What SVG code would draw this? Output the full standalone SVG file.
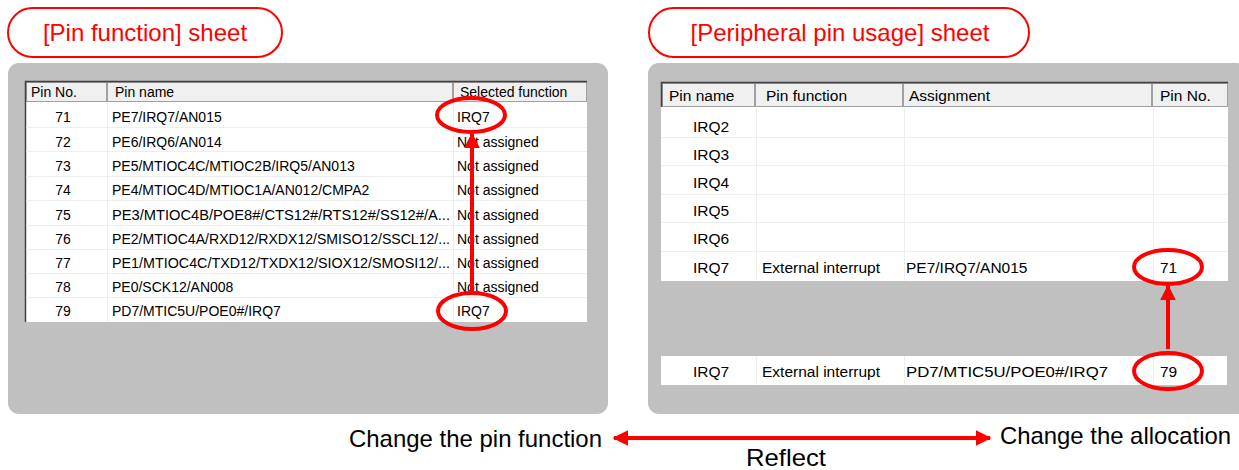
<svg xmlns="http://www.w3.org/2000/svg" width="1239" height="470" viewBox="0 0 1239 470">
  <defs>
    <style>
      .panel { fill: #c0c0c0; }
      .pill { fill: #ffffff; stroke: #ff0000; stroke-width: 2; }
      .pill-text { font-family: "Liberation Sans", Arial, sans-serif; font-size: 24px; fill: #ff0000; text-anchor: middle; }
      .grid { fill: #ffffff; }
      .rowline { stroke: #eeeeee; stroke-width: 1; }
      .hdr { fill: #f0f0f0; stroke: #a0a0a0; stroke-width: 1; }
      .frame { stroke: #404040; stroke-width: 1.5; fill: none; }
      .cell { font-family: "Liberation Sans", Arial, sans-serif; font-size: 14px; fill: #000000; }
      .cell-l { font-family: "Liberation Sans", Arial, sans-serif; font-size: 15.5px; fill: #000000; }
      .mid { text-anchor: middle; }
      .mark { fill: none; stroke: #ff0000; stroke-width: 4; }
      .red-line { stroke: #ff0000; stroke-width: 4; fill: none; }
      .caption { font-family: "Liberation Sans", Arial, sans-serif; font-size: 24px; fill: #000000; }
    </style>
    <marker id="head" viewBox="0 0 10 10" refX="9" refY="5" markerWidth="4" markerHeight="4" orient="auto-start-reverse" markerUnits="strokeWidth">
      <path d="M0,0 L10,5 L0,10 z" fill="#ff0000"/>
    </marker>
  </defs>

  <!-- Pin function sheet -->
  <g id="pin-function-sheet">
    <rect class="pill" x="8" y="8" width="274" height="49" rx="24.5"/>
    <text class="pill-text" x="145" y="41">[Pin function] sheet</text>

    <rect class="panel" x="8" y="63" width="600" height="351" rx="11"/>
    <rect class="grid" x="25" y="81" width="562" height="241"/>
    <!-- header -->
    <rect class="hdr" x="26.5" y="82.5" width="80" height="19"/>
    <rect class="hdr" x="107.5" y="82.5" width="345" height="19"/>
    <rect class="hdr" x="453.5" y="82.5" width="133" height="19"/>
    <path class="frame" d="M25.5,322 V81.5 H587"/>
    <!-- row separators -->
    <g class="rowline">
      <line x1="26" y1="127.5" x2="587" y2="127.5"/>
      <line x1="26" y1="151.5" x2="587" y2="151.5"/>
      <line x1="26" y1="176.5" x2="587" y2="176.5"/>
      <line x1="26" y1="200.5" x2="587" y2="200.5"/>
      <line x1="26" y1="225.5" x2="587" y2="225.5"/>
      <line x1="26" y1="249.5" x2="587" y2="249.5"/>
      <line x1="26" y1="273.5" x2="587" y2="273.5"/>
      <line x1="26" y1="297.5" x2="587" y2="297.5"/>
      <line x1="107.5" y1="102" x2="107.5" y2="322"/>
      <line x1="453.5" y1="102" x2="453.5" y2="322"/>
    </g>
    <text class="cell" x="31" y="97">Pin No.</text>
    <text class="cell" x="115" y="97">Pin name</text>
    <text class="cell" x="460" y="97">Selected function</text>

    <g class="cell">
      <text class="mid" x="63" y="122">71</text>
      <text class="mid" x="63" y="147">72</text>
      <text class="mid" x="63" y="171">73</text>
      <text class="mid" x="63" y="195">74</text>
      <text class="mid" x="63" y="220">75</text>
      <text class="mid" x="63" y="244">76</text>
      <text class="mid" x="63" y="268">77</text>
      <text class="mid" x="63" y="292">78</text>
      <text class="mid" x="63" y="316">79</text>

      <text x="112" y="122">PE7/IRQ7/AN015</text>
      <text x="112" y="147">PE6/IRQ6/AN014</text>
      <text x="112" y="171">PE5/MTIOC4C/MTIOC2B/IRQ5/AN013</text>
      <text x="112" y="195">PE4/MTIOC4D/MTIOC1A/AN012/CMPA2</text>
      <text x="112" y="220" textLength="338" lengthAdjust="spacingAndGlyphs">PE3/MTIOC4B/POE8#/CTS12#/RTS12#/SS12#/A...</text>
      <text x="112" y="244" textLength="338" lengthAdjust="spacingAndGlyphs">PE2/MTIOC4A/RXD12/RXDX12/SMISO12/SSCL12/...</text>
      <text x="112" y="268" textLength="338" lengthAdjust="spacingAndGlyphs">PE1/MTIOC4C/TXD12/TXDX12/SIOX12/SMOSI12/...</text>
      <text x="112" y="292">PE0/SCK12/AN008</text>
      <text x="112" y="316">PD7/MTIC5U/POE0#/IRQ7</text>

      <text x="457" y="122">IRQ7</text>
      <text x="457" y="147">Not assigned</text>
      <text x="457" y="171">Not assigned</text>
      <text x="457" y="195">Not assigned</text>
      <text x="457" y="220">Not assigned</text>
      <text x="457" y="244">Not assigned</text>
      <text x="457" y="268">Not assigned</text>
      <text x="457" y="292">Not assigned</text>
      <text x="457" y="316">IRQ7</text>
    </g>
    <ellipse class="mark" cx="471" cy="115" rx="34" ry="17"/>
    <ellipse class="mark" cx="472" cy="311" rx="34" ry="18"/>
  </g>

  <!-- Peripheral pin usage sheet -->
  <g id="peripheral-pin-usage-sheet">
    <rect class="pill" x="649" y="8" width="380" height="49" rx="24.5"/>
    <text class="pill-text" x="840" y="41">[Peripheral pin usage] sheet</text>

    <rect class="panel" x="648" y="63" width="600" height="351" rx="11"/>
    <rect class="grid" x="661" y="82" width="567" height="199"/>
    <rect class="hdr" x="662.5" y="83.5" width="92" height="23"/>
    <rect class="hdr" x="755.5" y="83.5" width="147" height="23"/>
    <rect class="hdr" x="903.5" y="83.5" width="248" height="23"/>
    <rect class="hdr" x="1152.5" y="83.5" width="75" height="23"/>
    <path class="frame" d="M661.5,107 V82.5 H1228"/>
    <g class="rowline">
      <line x1="661" y1="137.5" x2="1228" y2="137.5"/>
      <line x1="661" y1="165.5" x2="1228" y2="165.5"/>
      <line x1="661" y1="194.5" x2="1228" y2="194.5"/>
      <line x1="661" y1="222.5" x2="1228" y2="222.5"/>
      <line x1="661" y1="251.5" x2="1228" y2="251.5"/>
      <line x1="756.5" y1="108" x2="756.5" y2="281"/>
      <line x1="904.5" y1="108" x2="904.5" y2="281"/>
      <line x1="1153.5" y1="108" x2="1153.5" y2="281"/>
    </g>
    <text class="cell-l" x="669" y="101">Pin name</text>
    <text class="cell-l" x="766" y="101">Pin function</text>
    <text class="cell-l" x="909" y="101">Assignment</text>
    <text class="cell-l" x="1160" y="101">Pin No.</text>

    <g class="cell-l">
      <text class="mid" x="711" y="132">IRQ2</text>
      <text class="mid" x="711" y="160">IRQ3</text>
      <text class="mid" x="711" y="188">IRQ4</text>
      <text class="mid" x="711" y="216">IRQ5</text>
      <text class="mid" x="711" y="244">IRQ6</text>
      <text class="mid" x="711" y="273">IRQ7</text>
      <text x="762" y="273" textLength="118" lengthAdjust="spacingAndGlyphs">External interrupt</text>
      <text x="906" y="273">PE7/IRQ7/AN015</text>
      <text x="1160" y="273">71</text>
    </g>

    <rect class="grid" x="661" y="356" width="566" height="29"/>
    <g class="rowline">
      <line x1="756.5" y1="356" x2="756.5" y2="385"/>
      <line x1="904.5" y1="356" x2="904.5" y2="385"/>
      <line x1="1153.5" y1="356" x2="1153.5" y2="385"/>
    </g>
    <g class="cell-l">
      <text class="mid" x="711" y="377">IRQ7</text>
      <text x="762" y="377" textLength="118" lengthAdjust="spacingAndGlyphs">External interrupt</text>
      <text x="906" y="377" textLength="202" lengthAdjust="spacingAndGlyphs">PD7/MTIC5U/POE0#/IRQ7</text>
      <text x="1160" y="377">79</text>
    </g>
    <ellipse class="mark" cx="1168" cy="267" rx="34" ry="17"/>
    <ellipse class="mark" cx="1168" cy="371" rx="34" ry="18"/>
  </g>

  <!-- connectors -->
  <g id="connectors">
    <line class="red-line" x1="472" y1="292" x2="472" y2="134" marker-end="url(#head)"/>
    <line class="red-line" x1="1168" y1="349" x2="1168" y2="286" marker-end="url(#head)"/>
    <line class="red-line" x1="614" y1="438" x2="990" y2="438" stroke-width="5" marker-start="url(#head)" marker-end="url(#head)"/>
  </g>

  <!-- captions -->
  <g id="captions">
    <text class="caption" x="602" y="447" text-anchor="end" textLength="253" lengthAdjust="spacingAndGlyphs">Change the pin function</text>
    <text class="caption" x="1000" y="444" textLength="231" lengthAdjust="spacingAndGlyphs">Change the allocation</text>
    <text class="caption" x="786" y="466" text-anchor="middle" font-size="23" textLength="80" lengthAdjust="spacingAndGlyphs">Reflect</text>
  </g>
</svg>
